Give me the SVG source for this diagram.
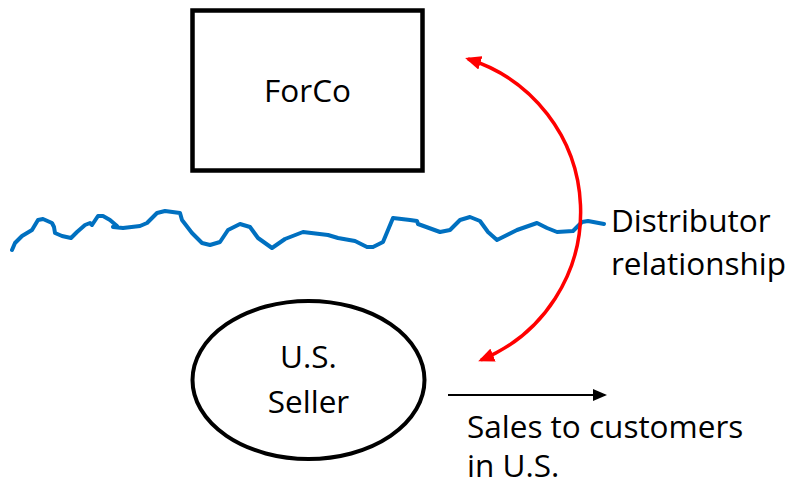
<svg xmlns="http://www.w3.org/2000/svg" width="794" height="487" viewBox="0 0 794 487">
  <style>
    .label { font-family: "Open Sans", "Liberation Sans", sans-serif; font-size: 31.5px; fill: #000; }
    .mid { text-anchor: middle; }
    .node { fill: #fff; stroke: #000; }
    .border { fill: none; stroke: #0070C0; stroke-width: 4; stroke-linejoin: round; stroke-linecap: round; }
    .rel { fill: none; stroke: #FF0000; stroke-width: 3.5; }
    .flow { fill: none; stroke: #000; stroke-width: 2; }
  </style>
  <defs>
    <marker id="redHead" viewBox="0 0 16 14" refX="13" refY="7" markerWidth="16" markerHeight="14" markerUnits="userSpaceOnUse" orient="auto-start-reverse">
      <path d="M0,0 L16,7 L0,14 Z" fill="#FF0000"/>
    </marker>
    <marker id="blackHead" viewBox="0 0 14 12" refX="12" refY="6" markerWidth="14" markerHeight="12" markerUnits="userSpaceOnUse" orient="auto">
      <path d="M0,0 L14,6 L0,12 Z" fill="#000"/>
    </marker>
  </defs>

  <!-- wavy border line -->
  <polyline class="border" points="12,250 15,243 22,236 32,230 38,220 43,219 52,223 54,227 55,233 62,236 71,238 77,232 85,225 90,223 92,225 98,216 103,216 110,220 117,226 113,227 123,228 140,226 147,223 157,213 165,211 180,213 182,220 192,233 202,243 210,245 220,242 228,230 240,224 250,227 258,238 272,248 285,239 303,232 328,235 338,238 355,241 367,247 373,247 383,242 393,218 410,220 417,221 418,224 440,232 450,230 460,220 470,217 480,221 488,232 497,240 517,230 537,223 547,228 557,232 573,231 582,222 588,221 604,224"/>

  <g id="forco">
    <rect class="node" x="192.5" y="10.5" width="230" height="160" stroke-width="4.5"/>
    <text class="label mid" x="307.5" y="102">ForCo</text>
  </g>

  <g id="us-seller">
    <ellipse class="node" cx="308.5" cy="380" rx="116" ry="79" stroke-width="4"/>
    <text class="label mid" x="308.5" y="368">U.S.</text>
    <text class="label mid" x="308.5" y="413">Seller</text>
  </g>

  <g id="connectors">
    <path class="rel" d="M468,59 A160,160 0 0 1 481,360" marker-start="url(#redHead)" marker-end="url(#redHead)"/>
    <line class="flow" x1="448" y1="395" x2="605" y2="395" marker-end="url(#blackHead)"/>
  </g>

  <g id="labels">
    <text class="label" x="611" y="232">Distributor</text>
    <text class="label" x="611" y="275">relationship</text>
    <text class="label" x="467" y="438">Sales to customers</text>
    <text class="label" x="467" y="477">in U.S.</text>
  </g>
</svg>
